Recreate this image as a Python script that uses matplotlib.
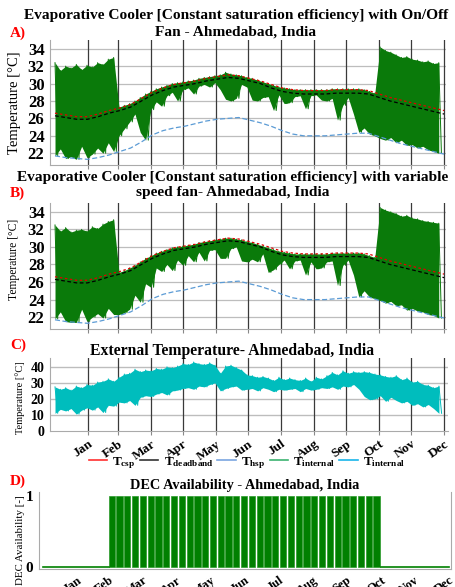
import numpy as np
import matplotlib
matplotlib.use('Agg')
import matplotlib.pyplot as plt
from matplotlib.lines import Line2D

plt.rcParams['font.family'] = 'Liberation Serif'
plt.rcParams['font.weight'] = 'bold'
plt.rcParams['mathtext.fontset'] = 'custom'
plt.rcParams['mathtext.rm'] = 'Liberation Serif:bold'
plt.rcParams['mathtext.it'] = 'Liberation Serif:bold'
plt.rcParams['mathtext.bf'] = 'Liberation Serif:bold'

months = ['Jan', 'Feb', 'Mar', 'Apr', 'May', 'Jun',
          'Jul', 'Aug', 'Sep', 'Oct', 'Nov', 'Dec']
month_end_day = [31, 59, 90, 120, 151, 181, 212, 243, 273, 304, 334, 365]

# set point temperatures (read every ~10 days)
sp_days = np.linspace(0, 365, 37)
t_csp = [26.6, 26.4, 26.2, 26.2, 26.5, 26.9, 27.2, 27.6, 28.3, 29.0,
         29.5, 29.9, 30.1, 30.3, 30.6, 30.8, 31.0, 30.9, 30.6, 30.3,
         29.9, 29.5, 29.3, 29.2, 29.2, 29.2, 29.3, 29.3, 29.3, 29.2,
         28.8, 28.4, 28.1, 27.8, 27.5, 27.2, 26.9]
t_deadband = [26.3, 26.1, 25.9, 25.9, 26.2, 26.6, 26.9, 27.3, 28.0, 28.7,
              29.2, 29.6, 29.8, 30.0, 30.3, 30.5, 30.7, 30.6, 30.3, 30.0,
              29.5, 29.1, 28.9, 28.8, 28.8, 28.8, 28.9, 28.9, 28.9, 28.8,
              28.4, 28.0, 27.7, 27.4, 27.1, 26.8, 26.5]
t_hsp = [21.7, 21.5, 21.4, 21.3, 21.5, 21.8, 22.2, 22.6, 23.3, 24.1,
         24.6, 24.9, 25.1, 25.4, 25.7, 25.9, 26.0, 26.1, 25.8, 25.5,
         25.1, 24.6, 24.2, 24.0, 24.0, 24.0, 24.1, 24.2, 24.3, 24.3,
         23.9, 23.5, 23.1, 22.8, 22.5, 22.2, 21.9]

# internal temperature swings (max / min every 5 days)
env_days = np.arange(0, 361, 5)
a_max = [32.4, 31.5, 32.0, 31.8, 32.2, 31.6, 32.1, 31.9, 32.4, 32.2, 32.8, 33.0,
         27.3, 27.5, 27.7, 28.0, 28.4, 28.8, 29.1, 29.4, 29.6, 29.8,
         30.0, 30.1, 30.2, 30.3, 30.4, 30.6, 30.7, 30.8, 30.9, 31.0,
         31.3, 31.1, 31.0, 30.9, 30.7, 30.6, 30.4, 30.2, 30.0, 29.8,
         29.6, 29.5, 29.4, 29.3, 29.3, 29.3, 29.3, 29.3, 29.3, 29.3,
         29.4, 29.4, 29.4, 29.4, 29.4, 29.4, 29.3, 29.1, 28.9,
         34.2, 33.8, 33.6, 33.3, 33.0, 33.1, 32.8, 32.7, 32.5, 32.6, 32.3, 32.4]
a_min = [21.7, 22.5, 21.4, 21.6, 21.3, 22.8, 21.5, 21.9, 22.6, 22.0, 23.2, 22.2,
         24.0, 24.8, 25.6, 26.5, 24.4, 23.5, 27.0, 27.9, 27.4, 28.6,
         29.0, 28.0, 29.3, 29.5, 28.8, 29.7, 29.9, 29.6, 30.1, 29.3,
         28.2, 28.0, 28.3, 29.9, 29.6, 28.1, 28.0, 28.4, 28.5, 26.9,
         28.7, 27.7, 27.8, 28.5, 28.6, 27.1, 28.6, 28.7, 28.1, 28.0,
         28.3, 25.8, 27.5, 28.4, 26.5, 24.4, 24.9, 24.2, 24.0,
         23.7, 23.5, 23.8, 23.2, 23.5, 22.9, 23.0, 22.6, 22.8, 22.4, 22.2, 22.0]
b_max = [32.5, 31.8, 32.2, 31.7, 31.9, 32.0, 31.8, 32.3, 32.1, 32.6, 32.9, 33.1,
         27.1, 27.3, 27.6, 27.9, 28.3, 28.7, 29.0, 29.3, 29.5, 29.7,
         29.9, 30.0, 30.1, 30.2, 30.3, 30.5, 30.6, 30.7, 30.8, 30.9,
         31.0, 31.0, 30.9, 30.8, 30.6, 30.5, 30.3, 30.1, 29.9, 29.7,
         29.5, 29.4, 29.3, 29.2, 29.2, 29.2, 29.2, 29.2, 29.2, 29.2,
         29.3, 29.3, 29.3, 29.3, 29.3, 29.3, 29.2, 29.0, 28.8,
         34.5, 34.2, 34.0, 33.8, 33.5, 33.6, 33.3, 33.2, 33.0, 32.9, 32.8, 32.7]
b_min = [21.8, 22.6, 21.5, 21.4, 21.4, 22.9, 21.5, 22.0, 22.4, 21.9, 23.0, 22.3,
         22.3, 22.5, 22.9, 24.5, 23.7, 25.8, 25.4, 27.6, 27.2, 28.0,
         27.3, 28.5, 27.9, 29.0, 28.3, 29.4, 28.4, 29.6, 29.7, 28.7,
         28.7, 29.8, 30.0, 28.4, 28.3, 28.6, 28.3, 29.2, 27.1, 27.4,
         28.0, 28.5, 27.5, 28.4, 28.5, 26.8, 28.3, 27.5, 27.6, 28.3,
         28.4, 25.6, 27.9, 28.5, 26.8, 24.3, 25.0, 24.3, 24.1,
         23.9, 23.6, 23.8, 23.3, 23.4, 22.8, 23.0, 22.7, 22.6, 22.3, 22.2, 21.9]

# external temperature (max / min every 5 days)
ext_max = [27.5, 26.0, 27.0, 25.5, 28.0, 27.0, 29.0, 28.5, 30.5, 31.0, 32.5, 31.0,
           33.5, 35.5, 36.0, 38.5, 37.0, 38.0, 37.5, 39.0, 38.5, 40.0,
           39.5, 40.5, 42.0, 41.5, 43.0, 42.0, 41.5, 42.5, 41.0, 36.0,
           40.5, 41.0, 39.5, 38.0, 35.0, 34.5, 33.5, 34.0, 33.0, 31.5,
           33.5, 32.0, 33.0, 32.0, 31.5, 33.0, 31.0, 33.5, 32.5, 34.5,
           36.5, 35.0, 37.5, 36.0, 37.0, 36.5, 37.0, 36.5, 35.5,
           35.0, 34.0, 33.5, 34.5, 32.0, 33.0, 30.5, 31.0, 29.0, 28.5, 27.0, 28.0]
ext_min = [11.0, 13.5, 12.5, 14.0, 10.5, 13.0, 14.5, 13.0, 15.0, 11.5, 16.0, 15.5,
           18.0, 17.5, 19.0, 16.0, 21.0, 22.0, 21.5, 23.0, 24.0, 22.5,
           25.0, 25.5, 26.5, 27.0, 26.0, 28.0, 27.5, 29.0, 30.0, 25.0,
           26.5, 27.5, 28.0, 25.5, 26.0, 26.5, 25.0, 27.0, 26.0, 24.5,
           26.0, 25.5, 26.0, 26.5, 24.5, 26.5, 25.5, 26.0, 27.0, 26.5,
           27.5, 26.0, 28.0, 27.5, 29.0, 26.0, 21.5, 19.5, 20.0,
           22.0, 18.5, 21.0, 19.0, 17.5, 18.5, 16.0, 17.0, 15.0, 16.5, 14.0, 11.0]

# DEC availability: weekly on-blocks between Feb and Oct
dec_first_day = 59
dec_last_day = 304
dec_available = [1] * 35


def zigzag(days, hi, lo):
    x = np.empty(2 * len(days))
    y = np.empty(2 * len(days))
    x[0::2] = days
    x[1::2] = days + 2.5
    y[0::2] = hi
    y[1::2] = lo
    return x, y


def swing(ax, hi, lo, color):
    # band between the max and min, plus a zig-zag for the ragged edges
    ax.fill_between(env_days, lo, hi, color=color, lw=0, zorder=2)
    x, y = zigzag(env_days, hi, lo)
    ax.plot(x, y, color=color, lw=0.7, zorder=2)


def temp_panel(ax, env_max, env_min):
    for d in month_end_day:
        ax.axvline(d, color='#3a3a3a', lw=0.9, zorder=1)
    for t in range(22, 35, 2):
        ax.axhline(t, color='#bdbdbd', lw=0.9, zorder=0)
    swing(ax, env_max, env_min, '#0a7a0a')
    ax.plot(sp_days, t_hsp, color='#5b9bd5', lw=0.9, ls=(0, (4, 2)), zorder=3)
    ax.plot(sp_days, t_deadband, color='black', lw=0.9, ls=(0, (3, 2)), zorder=3)
    ax.plot(sp_days, t_csp, color='#e00000', lw=0.9, ls=(0, (2, 2)), zorder=4)
    ax.set_xlim(-4.7, 366.8)
    ax.set_ylim(20.65, 35.0)
    ax.set_yticks(range(22, 35, 2))
    ax.set_xticks(month_end_day)
    ax.set_xticklabels([])
    ax.tick_params(axis='y', length=0, pad=4, labelsize=12)
    ax.tick_params(axis='x', length=3, color='#888888')
    for s in ['top', 'right']:
        ax.spines[s].set_visible(False)
    for s in ['left', 'bottom']:
        ax.spines[s].set_color('#aaaaaa')


fig = plt.figure(figsize=(4.56, 5.87), dpi=100)

axA = fig.add_axes([50 / 456, 1 - 165 / 587, 396 / 456, 125 / 587])
temp_panel(axA, a_max, a_min)
axA.set_ylabel('Temperature [°C]', fontsize=10.5, fontweight='normal')
axA.yaxis.set_label_coords(-29 / 396, 0.5)

axB = fig.add_axes([50 / 456, 1 - 329 / 587, 396 / 456, 126 / 587])
temp_panel(axB, b_max, b_min)
axB.set_ylabel('Temperature [°C]', fontsize=8.3, fontweight='normal')
axB.yaxis.set_label_coords(-30 / 396, 0.55)

# external temperature
axC = fig.add_axes([50 / 456, 1 - 431 / 587, 398 / 456, 73 / 587])
for d in month_end_day:
    axC.axvline(d, color='#3a3a3a', lw=0.9, zorder=1)
for t in [10, 20, 30, 40]:
    axC.axhline(t, color='#bdbdbd', lw=1.0, zorder=0)
swing(axC, ext_max, ext_min, '#00bdbd')
axC.set_xlim(-4.7, 368.5)
axC.set_ylim(0, 45.5)
axC.set_yticks([0, 10, 20, 30, 40])
axC.set_xticks(month_end_day)
axC.set_xticklabels(months, rotation=35, ha='right', rotation_mode='anchor', fontsize=9.5)
axC.tick_params(axis='y', length=0, pad=4, labelsize=10)
axC.tick_params(axis='x', length=3, color='#888888', pad=2)
for s in ['top', 'right']:
    axC.spines[s].set_visible(False)
for s in ['left', 'bottom']:
    axC.spines[s].set_color('#aaaaaa')
axC.set_ylabel('Temperature [°C]', fontsize=7.5, fontweight='normal')
axC.yaxis.set_label_coords(-25 / 398, 0.45)

# DEC availability
axD = fig.add_axes([39 / 456, 1 - 569 / 587, 412 / 456, 77 / 587])
wk = dec_first_day + 7 * np.arange(len(dec_available))
axD.bar(wk, dec_available, width=5.6, align='edge', color='#008000',
        edgecolor='#2a9a2a', lw=0.5, zorder=2)
axD.plot([0, dec_first_day], [0, 0], color='#008000', lw=1.2, zorder=2)
axD.plot([dec_last_day, 365], [0, 0], color='#008000', lw=1.2, zorder=2)
axD.set_xlim(-3.6, 366.7)
axD.set_ylim(-0.03, 1.06)
axD.set_yticks([0, 1])
axD.set_xticks(month_end_day)
axD.set_xticklabels(months, rotation=35, ha='right', rotation_mode='anchor', fontsize=9)
axD.tick_params(axis='y', length=0, pad=4, labelsize=11)
axD.tick_params(axis='x', length=0, pad=4)
axD.spines['top'].set_visible(False)
for s in ['left', 'bottom', 'right']:
    axD.spines[s].set_color('#aaaaaa')
axD.set_ylabel('DEC Availability [-]', fontsize=7.8)
axD.yaxis.set_label_coords(-14 / 412, 0.38)

# titles and panel letters
fig.text(236 / 456, 1 - 16 / 587, 'Evaporative Cooler [Constant saturation efficiency] with On/Off',
         ha='center', va='center', fontsize=11.1)
fig.text(236 / 456, 1 - 32 / 587, 'Fan - Ahmedabad, India', ha='center', va='center', fontsize=11.1)
fig.text(10 / 456, 1 - 33 / 587, 'A)', color='red', ha='left', va='center', fontsize=11)

fig.text(233 / 456, 1 - 178 / 587, 'Evaporative Cooler [Constant saturation efficiency] with variable',
         ha='center', va='center', fontsize=11.1)
fig.text(233 / 456, 1 - 193 / 587, 'speed fan- Ahmedabad, India', ha='center', va='center', fontsize=11.1)
fig.text(10 / 456, 1 - 193 / 587, 'B)', color='red', ha='left', va='center', fontsize=11)

fig.text(10 / 456, 1 - 345 / 587, 'C)', color='red', ha='left', va='center', fontsize=11)
fig.text(232 / 456, 1 - 351 / 587, 'External Temperature- Ahmedabad, India',
         ha='center', va='center', fontsize=11.3)

fig.text(10 / 456, 1 - 481 / 587, 'D)', color='red', ha='left', va='center', fontsize=11)
fig.text(245 / 456, 1 - 485 / 587, 'DEC Availability - Ahmedabad, India',
         ha='center', va='center', fontsize=10.3)

# legend
handles = [Line2D([], [], color='#ff3030', lw=1.2),
           Line2D([], [], color='#333333', lw=1.2),
           Line2D([], [], color='#7aa6e0', lw=1.2),
           Line2D([], [], color='#3cb371', lw=1.2),
           Line2D([], [], color='#19b5ea', lw=1.2)]
labels = ['$T_{csp}$', '$T_{deadband}$', '$T_{hsp}$', '$T_{internal}$', '$T_{internal}$']
fig.legend(handles, labels, loc='center', bbox_to_anchor=(247 / 456, 1 - 463 / 587),
           ncol=5, frameon=False, fontsize=9.5, handlelength=1.4, handletextpad=0.4,
           columnspacing=0.3, borderpad=0)

fig.savefig('out.png', dpi=100)
